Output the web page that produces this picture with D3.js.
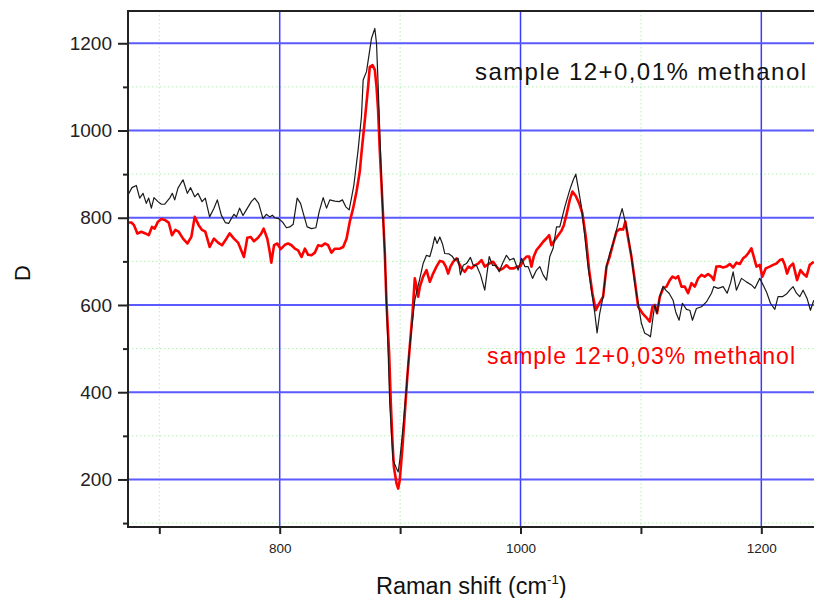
<!DOCTYPE html>
<html>
<head>
<meta charset="utf-8">
<script src="https://cdn.jsdelivr.net/npm/d3@7/dist/d3.min.js"></script>
<style>
  html, body { margin: 0; padding: 0; background: #fff; }
  svg { display: block; font-family: "Liberation Sans", Arial, sans-serif; }
</style>
</head>
<body>
<svg id="chart" width="814" height="598"></svg>
<script>
// Raman difference spectra D versus Raman shift (cm-1)

// sample 12 + 0,01% methanol
const shiftBlack = [674, 677.3, 680.9, 683.7, 686.5, 689.2, 691.2, 693.4, 695.6, 698.9,
  701.7, 704.5, 708.6, 710.8, 712.8, 715.5, 719.7, 723.3, 726.0, 729.4,
  732.1, 735.5, 738.2, 741.8, 745.4, 748.2, 751.5, 754.8, 757.6, 759.8,
  762.0, 764.0, 766.7, 769.5, 772.3, 776.4, 779.2, 782.5, 786.1, 788.9,
  791.7, 793.9, 795.8, 799.1, 802.7, 805.6, 808.4, 811.2, 814.5, 817.3,
  820.0, 822.8, 826.4, 830.0, 832.8, 836.1, 838.9, 841.6, 845.8, 849.4,
  852.1, 854.9, 857.7, 859.6, 861.6, 865.1, 867.9, 869.3, 872.1, 874.8,
  876.2, 879.0, 880.4, 881.7, 883.1, 885.5, 887.3, 888.7, 890.1, 891.4,
  892.8, 894.2, 897.0, 898.4, 899.7, 902.5, 905.3, 906.7, 909.4, 912.2,
  914.1, 916.4, 919.1, 921.9, 924.7, 926.9, 928.8, 930.7, 933.0, 935.2,
  937.1, 940.7, 943.5, 945.4, 948.2, 950.1, 952.4, 955.1, 958.4, 960.7,
  963.4, 966.8, 970.3, 974.0, 976.7, 979.5, 982.3, 985.0, 988.3, 991.1,
  994.4, 998.0, 1000.8, 1003.6, 1006.3, 1010.0, 1013.3, 1016.0, 1018.8, 1021.6,
  1024.3, 1027.1, 1029.9, 1032.6, 1036.8, 1040.9, 1043.7, 1045.9, 1047.8, 1050.6,
  1053.4, 1056.1, 1058.9, 1061.7, 1063.6, 1065.8, 1068.6, 1071.4, 1074.1, 1076.9,
  1079.7, 1082.4, 1084.4, 1086.6, 1089.4, 1092.1, 1094.9, 1097.7, 1100.4, 1103.2,
  1106.0, 1107.9, 1110.1, 1111.5, 1113.4, 1115.7, 1118.4, 1120.6, 1123.4, 1126.7,
  1128.9, 1131.7, 1134.5, 1137.8, 1140.6, 1142.8, 1146.1, 1150.3, 1154.4, 1158.6,
  1160.5, 1164.1, 1168.3, 1171.6, 1174.4, 1176.6, 1179.3, 1183.5, 1187.6, 1191.8,
  1194.6, 1198.7, 1201.5, 1204.3, 1207.6, 1211.2, 1213.9, 1217.5, 1220.9, 1223.6,
  1226.4, 1229.2, 1231.9, 1234.7, 1238.0, 1240.8, 1243.6];
const dBlack = [852, 869, 874, 845, 856, 833, 845, 822, 846, 837,
  831, 831, 845, 856, 841, 868, 887, 856, 869, 848,
  856, 837, 845, 802, 822, 841, 806, 789, 787, 798,
  808, 802, 822, 805, 818, 837, 845, 833, 798, 808,
  802, 806, 800, 798, 789, 777, 779, 785, 845, 833,
  806, 779, 775, 777, 814, 846, 822, 841, 838, 837,
  841, 825, 818, 845, 875, 955, 1032, 1116, 1135, 1185,
  1211, 1234, 1200, 1108, 994, 818, 718, 604, 489, 374,
  305, 244, 225, 217, 244, 321, 412, 466, 542, 611,
  634, 661, 695, 714, 711, 733, 756, 741, 756, 740,
  718, 717, 711, 703, 707, 669, 691, 695, 709, 691,
  691, 669, 634, 711, 691, 691, 676, 695, 714, 703,
  707, 680, 707, 688, 688, 661, 680, 688, 669, 657,
  711, 730, 779, 779, 825, 864, 886, 900, 871, 825,
  757, 688, 634, 581, 536, 581, 619, 688, 718, 741,
  772, 802, 821, 795, 757, 711, 649, 604, 558, 535,
  531, 527, 573, 600, 581, 619, 643, 634, 627, 611,
  584, 565, 604, 590, 588, 565, 592, 596, 607, 627,
  642, 638, 642, 627, 650, 676, 634, 661, 653, 646,
  638, 661, 646, 630, 604, 590, 619, 619, 625, 634,
  642, 627, 619, 634, 615, 588, 611];

// sample 12 + 0,03% methanol
const shiftRed = [674, 676.8, 679.0, 681.8, 685.1, 688.4, 691.2, 693.9, 696.1, 698.9,
  701.7, 704.5, 707.8, 710.5, 713.3, 716.1, 719.7, 723.3, 726.6, 729.4,
  732.7, 735.5, 738.2, 741.8, 745.4, 748.8, 752.1, 755.7, 758.4, 762.0,
  765.4, 768.1, 770.3, 773.1, 775.9, 778.6, 782.0, 784.7, 786.7, 789.7,
  791.7, 793.0, 795.3, 798.0, 800.8, 804.3, 807.0, 809.8, 812.6, 815.3,
  818.1, 820.9, 823.6, 826.4, 829.2, 831.9, 834.7, 837.5, 840.2, 843.0,
  845.8, 849.9, 852.7, 855.5, 858.2, 861.0, 863.8, 866.5, 867.9, 870.7,
  873.4, 874.8, 877.1, 879.0, 880.4, 881.7, 883.1, 884.5, 885.9, 887.3,
  888.7, 890.9, 892.3, 893.6, 894.8, 897.0, 898.4, 899.7, 902.0, 903.9,
  905.8, 908.0, 910.3, 912.2, 913.6, 915.0, 916.4, 919.1, 921.9, 924.7,
  927.4, 930.2, 933.0, 935.7, 938.0, 939.9, 941.8, 944.0, 946.8, 949.0,
  951.0, 953.7, 956.5, 959.3, 962.0, 964.8, 967.6, 970.3, 974.0, 977.3,
  980.0, 982.8, 985.6, 988.3, 991.1, 994.4, 997.2, 1000.0, 1002.2, 1005.0,
  1007.2, 1009.1, 1011.0, 1013.3, 1016.0, 1018.8, 1021.6, 1023.8, 1025.7, 1028.5,
  1031.3, 1034.0, 1036.0, 1038.4, 1040.9, 1043.1, 1045.9, 1048.7, 1051.4, 1054.2,
  1057.0, 1059.7, 1062.5, 1065.3, 1068.6, 1071.4, 1074.1, 1076.9, 1079.7, 1082.4,
  1085.2, 1087.1, 1089.4, 1092.1, 1094.9, 1097.7, 1101.3, 1104.0, 1107.4, 1109.6,
  1111.5, 1113.4, 1115.7, 1118.4, 1121.2, 1124.0, 1126.2, 1128.9, 1130.9, 1133.7,
  1136.4, 1139.2, 1142.0, 1144.7, 1147.5, 1150.3, 1153.0, 1155.8, 1158.6, 1160.5,
  1162.7, 1165.5, 1168.3, 1171.0, 1173.8, 1176.6, 1179.3, 1182.1, 1184.9, 1187.1,
  1189.0, 1191.8, 1193.7, 1196.0, 1198.7, 1200.9, 1203.7, 1207.0, 1209.8, 1212.5,
  1215.3, 1217.5, 1219.5, 1221.4, 1223.6, 1226.4, 1229.7, 1232.5, 1234.7, 1237.5,
  1240.2, 1243.6];
const dRed = [789, 789, 783, 764, 768, 764, 760, 779, 775, 791,
  797, 795, 789, 760, 772, 768, 752, 741, 756, 802,
  783, 772, 768, 733, 752, 743, 737, 752, 764, 752,
  743, 725, 710, 754, 756, 746, 754, 764, 775, 752,
  722, 697, 737, 741, 728, 738, 741, 737, 729, 725,
  710, 729, 715, 714, 720, 737, 735, 741, 737, 720,
  729, 729, 733, 752, 791, 822, 860, 906, 948, 1024,
  1100, 1146, 1150, 1139, 1100, 1047, 955, 879, 802, 718,
  604, 489, 374, 290, 229, 191, 179, 198, 275, 351,
  428, 504, 581, 661, 642, 619, 642, 665, 680, 653,
  672, 688, 701, 699, 688, 672, 688, 699, 707, 695,
  684, 676, 688, 684, 691, 695, 703, 688, 695, 699,
  688, 680, 684, 691, 684, 684, 688, 689, 703, 711,
  711, 688, 711, 726, 735, 745, 753, 760, 737, 749,
  760, 770, 783, 810, 841, 860, 850, 833, 810, 757,
  680, 627, 588, 603, 619, 688, 711, 741, 768, 774,
  773, 791, 753, 711, 657, 596, 581, 573, 562, 596,
  600, 581, 619, 638, 642, 657, 665, 661, 666, 642,
  642, 627, 650, 642, 661, 669, 665, 671, 665, 657,
  688, 689, 686, 688, 694, 686, 697, 694, 707, 712,
  718, 730, 711, 688, 692, 665, 684, 688, 692, 695,
  703, 705, 692, 672, 688, 695, 657, 680, 672, 665,
  692, 699];

// Axis ticks
const xMajorTicks = [800, 1000, 1200];
const xMinorTicks = [700, 900, 1100];
const yMajorTicks = [200, 400, 600, 800, 1000, 1200];
const yMinorTicks = [100, 300, 500, 700, 900, 1100];

// Text
const xTitle = "Raman shift (cm";
const xTitleSup = "-1";
const yTitle = "D";
const labelBlack = "sample 12+0,01% methanol";
const labelRed = "sample 12+0,03% methanol";

const svg = d3.select("#chart");
const plotLeft = 128, plotRight = 814, plotTop = 11, plotBottom = 527;

const x = d3.scaleLinear().domain([674, 1244]).range([plotLeft, plotRight + 0.3]);
const y = d3.scaleLinear().domain([91, 1274]).range([plotBottom, plotTop]);

svg.append("rect").attr("width", 814).attr("height", 598).attr("fill", "#fff");

// minor grid (dotted green)
const grid = svg.append("g");
grid.selectAll("line.gx").data(xMinorTicks).join("line")
  .attr("x1", d => x(d)).attr("x2", d => x(d))
  .attr("y1", plotTop).attr("y2", plotBottom)
  .attr("stroke", "#b4f0b4").attr("stroke-width", 1).attr("stroke-dasharray", "1.5,2.5");
grid.selectAll("line.gy").data(yMinorTicks).join("line")
  .attr("x1", plotLeft).attr("x2", plotRight)
  .attr("y1", d => y(d)).attr("y2", d => y(d))
  .attr("stroke", "#b4f0b4").attr("stroke-width", 1).attr("stroke-dasharray", "1.5,2.5");

// major grid (blue)
grid.selectAll("line.bx").data(xMajorTicks).join("line")
  .attr("x1", d => x(d)).attr("x2", d => x(d))
  .attr("y1", plotTop).attr("y2", plotBottom)
  .attr("stroke", "#3c3cff").attr("stroke-width", 1.5);
grid.selectAll("line.by").data(yMajorTicks).join("line")
  .attr("x1", plotLeft).attr("x2", plotRight)
  .attr("y1", d => y(d)).attr("y2", d => y(d))
  .attr("stroke", "#5a5aff").attr("stroke-width", 2);

// spectra
svg.append("clipPath").attr("id", "plot-clip")
  .append("rect").attr("x", plotLeft).attr("y", plotTop)
  .attr("width", plotRight - plotLeft).attr("height", plotBottom - plotTop);

const line = d3.line().x(d => x(d[0])).y(d => y(d[1]));
const plot = svg.append("g").attr("clip-path", "url(#plot-clip)");

plot.append("path")
  .datum(d3.zip(shiftRed, dRed))
  .attr("d", line)
  .attr("fill", "none").attr("stroke", "#ff0000").attr("stroke-width", 2.6)
  .attr("stroke-linejoin", "round");

plot.append("path")
  .datum(d3.zip(shiftBlack, dBlack))
  .attr("d", line)
  .attr("fill", "none").attr("stroke", "#1a1a1a").attr("stroke-width", 1.2)
  .attr("stroke-linejoin", "round");

// axes
const yAxisMajor = d3.axisLeft(y).tickValues(yMajorTicks).tickSize(10).tickPadding(6).tickFormat(d3.format("d"));
const yAxisMinor = d3.axisLeft(y).tickValues(yMinorTicks).tickSize(5).tickFormat("");
const xAxisMajor = d3.axisBottom(x).tickValues(xMajorTicks).tickSize(7).tickPadding(9).tickFormat(d3.format("d"));
const xAxisMinor = d3.axisBottom(x).tickValues(xMinorTicks).tickSize(7).tickFormat("");

function styleAxis(g, fontSize) {
  g.select(".domain").remove();
  g.selectAll(".tick line").attr("stroke", "#222").attr("stroke-width", 2);
  g.selectAll(".tick text").attr("fill", "#222").style("font-size", fontSize + "px")
    .style("font-family", "'Liberation Sans', Arial, sans-serif");
}

svg.append("g").attr("transform", `translate(${plotLeft},0)`).call(yAxisMajor).call(g => styleAxis(g, 19));
svg.append("g").attr("transform", `translate(${plotLeft},0)`).call(yAxisMinor).call(g => styleAxis(g, 19));
svg.append("g").attr("transform", `translate(0,${plotBottom})`).call(xAxisMajor).call(g => styleAxis(g, 13.5));
svg.append("g").attr("transform", `translate(0,${plotBottom})`).call(xAxisMinor).call(g => styleAxis(g, 13.5));

// frame lines: left, bottom, top
svg.append("line").attr("x1", plotLeft).attr("x2", plotLeft).attr("y1", plotTop - 1).attr("y2", plotBottom + 1)
  .attr("stroke", "#222").attr("stroke-width", 2);
svg.append("line").attr("x1", plotLeft - 1).attr("x2", plotRight).attr("y1", plotBottom).attr("y2", plotBottom)
  .attr("stroke", "#222").attr("stroke-width", 2);
svg.append("line").attr("x1", plotLeft - 1).attr("x2", plotRight).attr("y1", plotTop).attr("y2", plotTop)
  .attr("stroke", "#222").attr("stroke-width", 2);

// axis titles
const xt = svg.append("text").attr("x", 376).attr("y", 594)
  .attr("fill", "#111").style("font-size", "23.5px");
xt.append("tspan").text(xTitle);
xt.append("tspan").attr("dy", -10).style("font-size", "13px").text(xTitleSup);
xt.append("tspan").attr("dy", 10).text(")");

svg.append("text")
  .attr("transform", "translate(30,273) rotate(-90)")
  .attr("text-anchor", "middle")
  .attr("fill", "#111").style("font-size", "22px")
  .text(yTitle);

// series labels
svg.append("text").attr("x", 475).attr("y", 80)
  .attr("fill", "#111").style("font-size", "24px")
  .attr("textLength", 331).attr("lengthAdjust", "spacing")
  .text(labelBlack);
svg.append("text").attr("x", 487).attr("y", 364)
  .attr("fill", "#ff0000").style("font-size", "23px")
  .attr("textLength", 308).attr("lengthAdjust", "spacing")
  .text(labelRed);
</script>
</body>
</html>
